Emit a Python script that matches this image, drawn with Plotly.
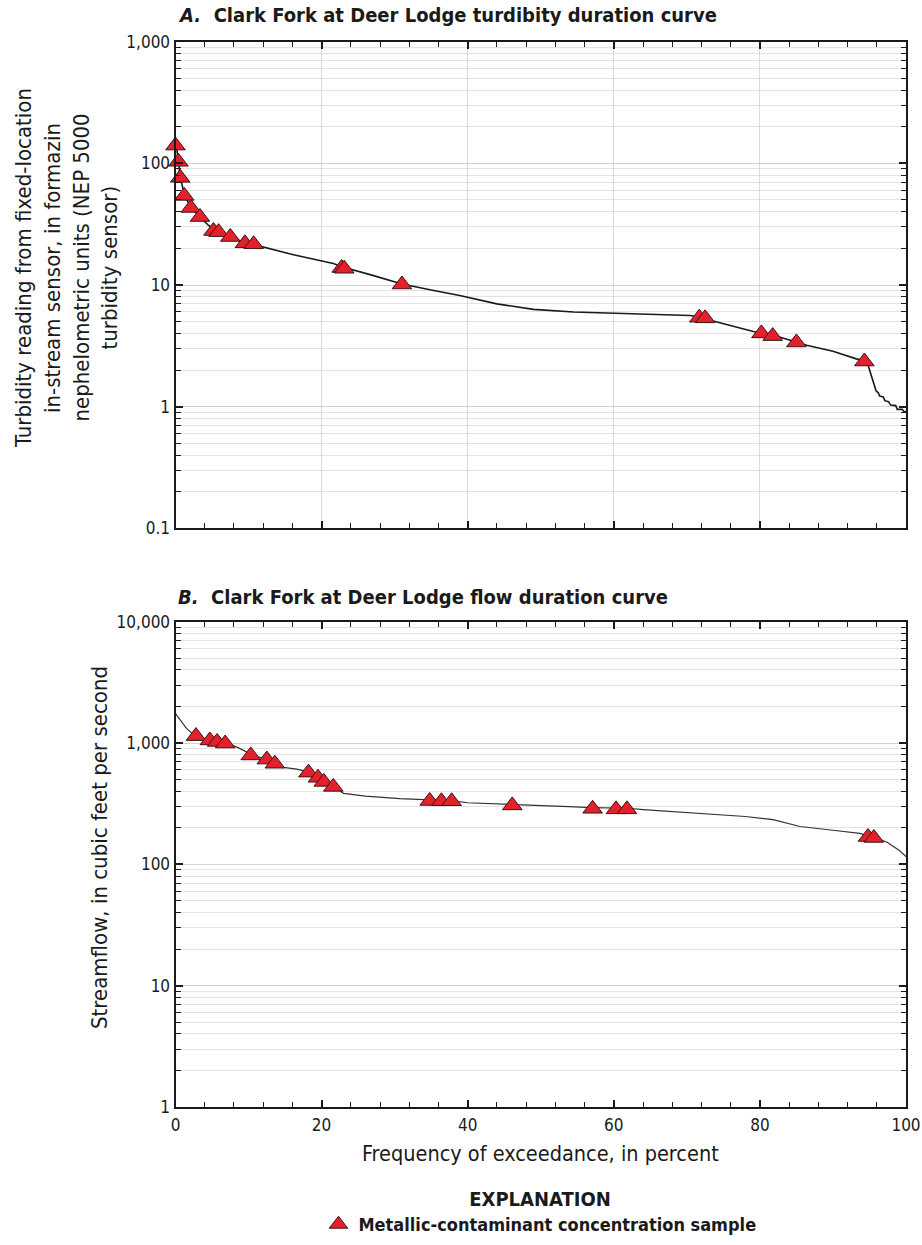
import plotly.graph_objects as go

# ---- Panel A: turbidity duration curve (Clark Fork at Deer Lodge) ----
turb_curve_pct = [0.0, 0.2, 0.4, 0.65, 1.2, 2.1, 3.3, 4.5, 5.5, 7.5, 9.5, 10.7, 12.5, 16.0,
                  21.6, 23.0, 27.0, 31.0, 35.0, 38.9, 44.0, 49.0, 54.5, 60.0, 66.0, 70.4,
                  72.0, 73.6, 79.1, 80.5, 82.0, 86.4, 90.0, 93.2, 94.3, 94.8, 95.1, 95.5,
                  95.9, 96.2, 96.4, 96.9, 97.1, 97.6, 97.9, 98.6, 98.8, 99.5, 99.7, 100.0]
turb_curve_fnu = [160, 125, 105, 78, 55, 43.5, 36.5, 31, 27.8, 25, 22.3, 21.5, 20.2, 17.8,
                  15.0, 14.0, 12.0, 10.2, 9.1, 8.2, 7.0, 6.3, 6.0, 5.85, 5.75, 5.62,
                  5.45, 5.05, 4.15, 4.0, 3.85, 3.2, 2.85, 2.47, 2.38, 2.2, 1.94, 1.6,
                  1.35, 1.3, 1.22, 1.2, 1.12, 1.1, 1.03, 1.02, 0.95, 0.95, 0.91, 0.91]
turb_sample_pct = [0.0, 0.4, 0.65, 1.2, 2.1, 3.35, 5.2, 5.9, 7.5, 9.5, 10.7, 22.75, 23.1, 31.0,
                   71.7, 72.5, 80.2, 81.75, 85.0, 94.3]
turb_sample_fnu = [140, 103, 76, 54, 43, 36.2, 27.8, 27.2, 24.8, 22.0, 21.6, 13.8, 13.6, 10.1,
                   5.38, 5.32, 4.0, 3.8, 3.37, 2.35]

# ---- Panel B: flow duration curve (Clark Fork at Deer Lodge) ----
flow_curve_pct = [0.0, 0.5, 1.5, 2.5, 4.0, 5.5, 7.0, 8.5, 10.3, 12.0, 13.6, 14.8, 16.6, 18.2,
                  19.5, 20.3, 21.6, 23.0, 26.0, 30.7, 35.0, 38.0, 40.0, 46.0, 53.0, 57.0,
                  62.0, 64.0, 71.8, 78.0, 81.8, 85.5, 90.0, 93.7, 95.0, 96.0, 97.4, 99.1, 100.0]
flow_curve_cfs = [1750, 1600, 1320, 1170, 1090, 1040, 1000, 920, 810, 745, 690, 630, 610, 575,
                  525, 485, 440, 385, 365, 348, 340, 333, 322, 310, 300, 294,
                  290, 283, 263, 248, 234, 205, 191, 180, 170, 165, 152, 130, 116]
flow_sample_pct = [2.8, 4.7, 5.7, 6.8, 10.3, 12.5, 13.6, 18.2, 19.5, 20.3, 21.6, 34.8, 36.4,
                   37.8, 46.1, 57.1, 60.3, 61.8, 94.8, 95.6]
flow_sample_cfs = [1140, 1050, 1020, 990, 790, 730, 675, 570, 517, 478, 435, 333, 331,
                   331, 306, 287, 284, 284, 168, 165]

FONT = "Liberation Sans Narrow, DejaVu Sans Condensed, Arial Narrow, sans-serif"
W, H = 922, 1245
RED = "#e3202b"
EDGE = "#3b1414"
GRID = "rgba(196,180,180,0.4)"
INK = "#1a1a1a"


def px_x(p):
    return p / W


def px_y(p):
    return 1 - p / H


fig = go.Figure()

# Panel A traces
fig.add_trace(go.Scatter(x=turb_curve_pct, y=turb_curve_fnu, mode="lines",
                         line=dict(color=INK, width=1.6), xaxis="x", yaxis="y",
                         showlegend=False, hoverinfo="skip"))
fig.add_trace(go.Scatter(x=turb_sample_pct, y=turb_sample_fnu, mode="markers",
                         marker=dict(symbol="triangle-up", size=17, color=RED,
                                     line=dict(color=EDGE, width=1)),
                         xaxis="x", yaxis="y", cliponaxis=False,
                         name="<b>Metallic-contaminant concentration sample</b>",
                         showlegend=True))

# Panel B traces
fig.add_trace(go.Scatter(x=flow_curve_pct, y=flow_curve_cfs, mode="lines",
                         line=dict(color="#333333", width=1.2), xaxis="x2", yaxis="y2",
                         showlegend=False, hoverinfo="skip"))
fig.add_trace(go.Scatter(x=flow_sample_pct, y=flow_sample_cfs, mode="markers",
                         marker=dict(symbol="triangle-up", size=17, color=RED,
                                     line=dict(color=EDGE, width=1)),
                         xaxis="x2", yaxis="y2", cliponaxis=False, showlegend=False))

x_dom = [px_x(175.5), px_x(906)]
yA_dom = [px_y(528.3), px_y(41.7)]
yB_dom = [px_y(1107), px_y(621.7)]

tickfont = dict(family=FONT, size=17, color=INK)

common_x = dict(range=[0, 100], dtick=20, tick0=0, ticks="inside", ticklen=7, tickwidth=1.5,
                tickcolor=INK, showline=True, linecolor=INK, linewidth=2,
                mirror="ticks", zeroline=False, automargin=False,
                minor=dict(dtick=4, ticks="inside", ticklen=5, tickcolor=INK,
                           tickwidth=1, showgrid=False),
                tickfont=tickfont)

common_y = dict(type="log", ticks="inside", ticklen=7, tickwidth=1.5, tickcolor=INK,
                showline=True, linecolor=INK, linewidth=2, mirror="ticks",
                showgrid=True, gridcolor=GRID, gridwidth=1, zeroline=False, automargin=False,
                minor=dict(dtick="D1", ticks="inside", ticklen=5, tickcolor=INK,
                           tickwidth=1, showgrid=True, gridcolor=GRID, gridwidth=1),
                tickfont=tickfont)

fig.update_layout(
    width=W, height=H, autosize=False,
    margin=dict(l=0, r=0, t=0, b=0, pad=0),
    paper_bgcolor="white", plot_bgcolor="white",
    font=dict(family=FONT, color=INK),
    xaxis=dict(domain=x_dom, anchor="y", showticklabels=False, showgrid=True,
               gridcolor="rgba(190,180,180,0.5)", gridwidth=1, **common_x),
    yaxis=dict(domain=yA_dom, anchor="x", range=[-1, 3],
               tickvals=[0.1, 1, 10, 100, 1000], ticktext=["0.1", "1", "10", "100", "1,000"],
               **common_y),
    xaxis2=dict(domain=x_dom, anchor="y2", showticklabels=True, showgrid=False,
                ticklabelstandoff=2, **common_x),
    yaxis2=dict(domain=yB_dom, anchor="x2", range=[0, 4],
                tickvals=[1, 10, 100, 1000, 10000],
                ticktext=["1", "10", "100", "1,000", "10,000"], **common_y),
    legend=dict(orientation="h", x=px_x(540), xanchor="center", y=px_y(1243),
                yanchor="bottom", tracegroupgap=0,
                font=dict(family=FONT, size=18, color=INK),
                title=dict(text="<b>EXPLANATION</b>", side="top center",
                           font=dict(family=FONT, size=20, color=INK)),
                bgcolor="rgba(0,0,0,0)", itemsizing="trace"),
    showlegend=True,
)

annotations = [
    dict(text="<b><i>A.</i>  Clark Fork at Deer Lodge turdibity duration curve</b>",
         x=px_x(176), y=px_y(15), xanchor="left", yanchor="middle", size=20),
    dict(text="<b><i>B.</i>  Clark Fork at Deer Lodge flow duration curve</b>",
         x=px_x(176), y=px_y(597), xanchor="left", yanchor="middle", size=20),
    dict(text="Frequency of exceedance, in percent",
         x=px_x(540.5), y=px_y(1153), xanchor="center", yanchor="middle", size=21.5),
    dict(text="Streamflow, in cubic feet per second", x=px_x(99), y=px_y(848),
         xanchor="center", yanchor="middle", size=22, textangle=-90),
]
ylabel_lines = ["Turbidity reading from fixed-location", "in-stream sensor, in formazin",
                "nephelometric units (NEP 5000", "turbidity sensor)"]
for xc, line in zip([23, 52, 80.5, 108.5], ylabel_lines):
    annotations.append(dict(text=line, x=px_x(xc), y=px_y(268), xanchor="center",
                            yanchor="middle", size=22, textangle=-90))

fig.update_layout(annotations=[
    dict(text=a["text"], x=a["x"], y=a["y"], xref="paper", yref="paper",
         xanchor=a["xanchor"], yanchor=a["yanchor"], showarrow=False,
         textangle=a.get("textangle", 0),
         font=dict(family=FONT, size=a["size"], color=INK))
    for a in annotations
])

fig.write_html("out.html")
